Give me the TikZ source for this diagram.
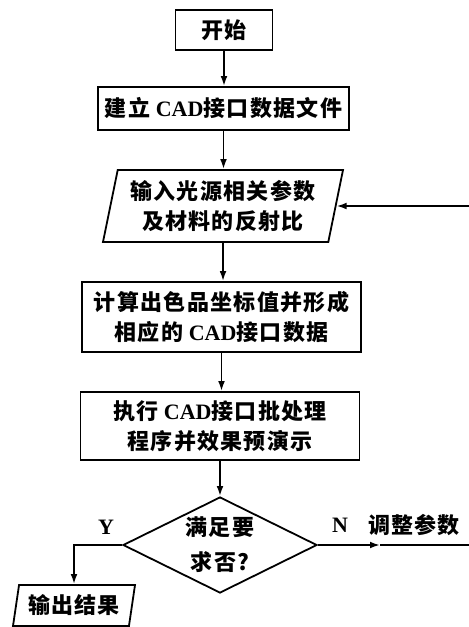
\documentclass[tikz,border=0pt]{standalone}
\usepackage{fontspec}
\setmainfont{Liberation Serif}
\newfontfamily\cjk[LetterSpace=6]{Noto Sans CJK SC}
\usetikzlibrary{shapes.geometric,arrows.meta}

\begin{document}
\begin{tikzpicture}[x=0.5pt,y=-0.5pt,
    font=\fontsize{11}{15}\selectfont\bfseries,
    box/.style={draw,line width=0.9pt,align=center,inner sep=0pt},
    iobox/.style={trapezium,trapezium left angle=74,trapezium right angle=106,
      trapezium stretches body,draw,line width=0.9pt,align=center,inner sep=0pt},
    testbox/.style={diamond,draw,line width=0.9pt,align=center,inner sep=0pt,aspect=2},
    arr/.style={-{Latex[length=5pt,width=3.4pt]},line width=0.9pt}]
  % page frame (same size as the scan)
  \useasboundingbox (0,0) rectangle (468,627);

  % Steps of the flow
  \node[box,minimum width=48.5pt,minimum height=20pt] (start) at (224,30) {\cjk 开始};
  \node[box,minimum width=125.5pt,minimum height=21.5pt] (build) at (223.5,108.5)
    {{\cjk 建立} CAD{\cjk 接口数据文件}};
  \node[iobox,minimum width=120pt,minimum height=36pt] (in) at (223,206)
    {{\cjk 输入光源相关参数}\\ {\cjk 及材料的反射比}};
  \node[box,minimum width=139.5pt,minimum height=35pt] (calc) at (221.5,317)
    {{\cjk 计算出色品坐标值并形成}\\ {\cjk 相应的} CAD{\cjk 接口数据}};
  \node[box,minimum width=139.5pt,minimum height=34pt] (exec) at (220,426)
    {{\cjk 执行} CAD{\cjk 接口批处理}\\ {\cjk 程序并效果预演示}};
  \node[testbox,minimum width=97pt,minimum height=48pt] (dia) at (220,545)
    {{\cjk 满足要}\\[2.5pt] {\cjk 求否?}};
  \node[iobox,minimum width=61pt,minimum height=20.5pt] (out) at (74,605.5)
    {\cjk 输出结果};

  % Branch labels
  \node (yes) at (106,527) {Y};
  \node (no) at (340,525) {N};
  \node (adj) at (414,525) {\cjk 调整参数};

  % Main line
  \draw[arr] (start.south) -- (start.south |- build.north);
  \draw[arr] (build.south) -- (build.south |- in.north);
  \draw[arr] (in.south) -- (in.south |- calc.north);
  \draw[arr] (calc.south) -- (calc.south |- exec.north);
  \draw[arr] (exec.south) -- (dia.north);

  % Y: output,  N: back to the input
  \draw[arr] (dia.west) -| (out.north);
  \coordinate (nmid) at (380,545);
  \coordinate (nend) at (470,545);
  \draw[arr] (dia.east) -- (nmid);
  \draw[arr] (nmid) -- (nend) |- (in.east);
\end{tikzpicture}
\end{document}
